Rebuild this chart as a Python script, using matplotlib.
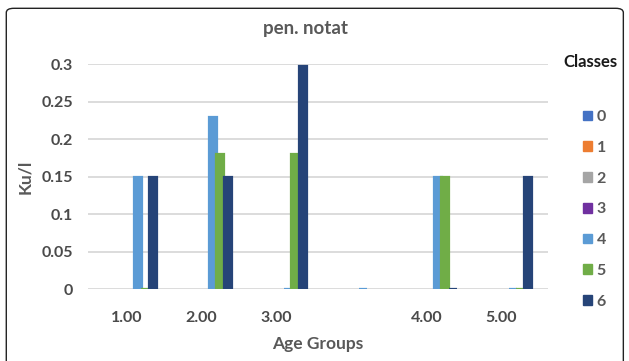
import matplotlib.pyplot as plt
import numpy as np
from matplotlib.patches import FancyBboxPatch

plt.rcParams['font.family'] = ['Lato', 'DejaVu Sans']

# x categories (one group has no label)
groups = ['1.00', '2.00', '3.00', '', '4.00', '5.00']
classes = ['0', '1', '2', '3', '4', '5', '6']

# values per class (None = empty cell, 0 = zero drawn as a sliver)
class_0 = [None, None, None, None, None, None]
class_1 = [None, None, None, None, None, None]
class_2 = [None, None, None, None, None, None]
class_3 = [None, None, None, None, None, None]
class_4 = [0.15, 0.23, 0.0, 0.0, 0.15, 0.0]
class_5 = [0.0, 0.18, 0.18, None, 0.15, 0.0]
class_6 = [0.15, 0.15, 0.297, None, 0.0, 0.15]
series = [class_0, class_1, class_2, class_3, class_4, class_5, class_6]

colors = ['#4472C4', '#ED7D31', '#A5A5A5', '#7030A0', '#5B9BD5', '#70AD47', '#264478']

fig = plt.figure(figsize=(6.29, 3.61), dpi=100)
ax = fig.add_axes([0.140, 0.1994, 0.731, 0.623])

x = np.arange(len(groups))
width = 0.1
for i, (vals, col) in enumerate(zip(series, colors)):
    pos = x + (i - 3) * width + 0.05
    xs = [p for p, v in zip(pos, vals) if v is not None]
    hs = [v for v in vals if v is not None]
    ax.bar(xs, hs, width * 1.05, color=col, edgecolor=col, linewidth=1.6,
           zorder=3, label=classes[i])

ax.set_ylim(0, 0.3)
ax.set_xlim(-0.513, 5.62)
ax.set_yticks([0, 0.05, 0.1, 0.15, 0.2, 0.25, 0.3])
ax.set_yticklabels(['0', '0.05', '0.1', '0.15', '0.2', '0.25', '0.3'])
ax.set_xticks(x)
ax.set_xticklabels(groups)
ax.grid(axis='y', color='#D9D9D9', linewidth=1.3, zorder=0)
for s in ax.spines.values():
    s.set_visible(False)
ax.tick_params(length=0, labelsize=11.5, colors='#595959', labelcolor='#4a4a4a')
ax.tick_params(axis='x', pad=16)
ax.tick_params(axis='y', pad=11)
for lab in ax.get_xticklabels() + ax.get_yticklabels():
    lab.set_fontweight('bold')

ax.set_ylabel('Ku/l', fontsize=12.5, color='#595959', fontweight='bold', labelpad=6)
ax.set_xlabel('Age Groups', fontsize=12.5, color='#595959', fontweight='bold', labelpad=8)
fig.text(0.485, 0.922, 'pen. notat', ha='center', va='center', fontsize=13.5,
         color='#595959', fontweight='bold')

fig.text(0.939, 0.828, 'Classes', ha='center', va='center', fontsize=12,
         color='#1a1a1a', fontweight='bold')
handles = [plt.Rectangle((0, 0), 1, 1, color=c) for c in colors]
fig.legend(handles, classes, loc='upper left', bbox_to_anchor=(0.904, 0.735),
           frameon=False, handlelength=0.55, handleheight=0.55, handletextpad=0.3,
           labelspacing=1.05, labelcolor='#595959',
           prop={'weight': 'bold', 'size': 11.5})

border = FancyBboxPatch((0.010, -0.05), 0.981, 1.027, boxstyle='round,pad=0,rounding_size=0.012',
                        transform=fig.transFigure, facecolor='none', edgecolor='#222222',
                        linewidth=1.0, clip_on=False)
fig.patches.append(border)

fig.savefig('out.png', dpi=100)
